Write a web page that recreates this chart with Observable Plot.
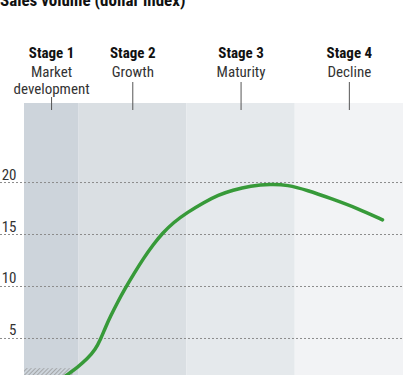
<!DOCTYPE html>
<html><head><meta charset="utf-8">
<script src="https://cdn.jsdelivr.net/npm/d3@7"></script>
<script src="https://cdn.jsdelivr.net/npm/@observablehq/plot@0.6"></script>
<style>
body{margin:0;background:#fff;}
#wrap{position:relative;width:403px;height:375px;overflow:hidden;}
#title{position:absolute;left:0;top:-8px;font:bold 17px "Liberation Sans Narrow", "Roboto Condensed", Roboto, sans-serif;line-height:17px;color:#111;white-space:nowrap;}
#chart svg{display:block;}
</style></head><body>
<div id="wrap"><div id="chart"></div><div id="title">Sales volume (dollar index)</div></div>
<script>
const stageNames = ["Stage 1", "Stage 2", "Stage 3", "Stage 4"];
const stageLabels = ["Market\ndevelopment", "Growth", "Maturity", "Decline"];
const stageStart = [0, 0.5, 1.5, 2.5];
const stageEnd = [0.5, 1.5, 2.5, 3.5];
const stageColors = ["#cdd4db", "#dadfe3", "#e5e9ec", "#f2f3f5"];
const yTicks = [5, 10, 15, 20];
const curveX = [0.37, 0.394, 0.487, 0.579, 0.656, 0.702, 0.748, 0.794, 0.859, 0.933, 1.007, 1.099, 1.191, 1.274, 1.376, 1.505, 1.653, 1.791, 1.921, 2.087, 2.272, 2.429, 2.613, 2.826, 3.075, 3.306];
const curveY = [1.33, 1.51, 2.21, 3.02, 3.96, 4.92, 6.08, 7.13, 8.48, 9.88, 11.17, 12.71, 14.06, 15.12, 16.17, 17.13, 18.07, 18.81, 19.27, 19.68, 19.85, 19.78, 19.25, 18.48, 17.52, 16.41];
const hatchX = [0, 0.45];
const hatchY = [1.44, 2.1];
const yDomain = [1.44, 27.6];

const stages = stageNames.map((name, i) => ({
  name, label: stageLabels[i], x1: stageStart[i], x2: stageEnd[i],
  mid: (stageStart[i] + stageEnd[i]) / 2, color: stageColors[i],
  lines: stageLabels[i].split("\n").length, top: yDomain[1]
}));
const curve = curveX.map((x, i) => ({x, y: curveY[i]}));
const hatch = [{x1: hatchX[0], x2: hatchX[1], y1: hatchY[0], y2: hatchY[1]}];
const font = '"Liberation Sans Narrow", "Roboto Condensed", Roboto, sans-serif';

const plot = Plot.plot({
  width: 403, height: 375,
  marginTop: 103, marginBottom: 0, marginLeft: 24, marginRight: 0,
  x: {domain: [0, 3.5], axis: null},
  y: {domain: yDomain, axis: null},
  color: {type: "identity"},
  style: {fontFamily: font, fontSize: "15px", background: "transparent", overflow: "visible"},
  marks: [
    Plot.rect(stages, {x1: "x1", x2: "x2", fill: "color"}),
    Plot.rect(hatch, {x1: "x1", x2: "x2", y1: "y1", y2: "y2", fill: "url(#hatch)"}),
    Plot.ruleY(yTicks, {stroke: "#8c8c8c", strokeDasharray: "2,2", insetLeft: -24}),
    Plot.text(yTicks, {y: d => d, text: d => String(d), frameAnchor: "left", dx: -8, dy: -3, textAnchor: "end", lineAnchor: "bottom", fill: "#333"}),
    Plot.ruleX(stages.filter(d => d.lines === 1), {x: "mid", y1: "top", y2: "top", insetTop: -21, insetBottom: -7, stroke: "#555"}),
    Plot.ruleX(stages.filter(d => d.lines > 1), {x: "mid", y1: "top", y2: "top", insetTop: -6, insetBottom: -7, stroke: "#555"}),
    Plot.text(stages, {x: "mid", text: "name", frameAnchor: "top", dy: -56, lineAnchor: "top", fontWeight: "bold", fill: "#111"}),
    Plot.text(stages, {x: "mid", text: "label", frameAnchor: "top", dy: -38, lineAnchor: "top", lineHeight: 1.1, fill: "#333"}),
    Plot.line(curve, {x: "x", y: "y", curve: "basis", stroke: "#379a39", strokeWidth: 3.5, clip: true})
  ]
});
const ns = "http://www.w3.org/2000/svg";
const defs = document.createElementNS(ns, "defs");
defs.innerHTML = '<pattern id="hatch" patternUnits="userSpaceOnUse" width="3" height="3" patternTransform="rotate(45)"><line x1="0" y1="0" x2="0" y2="3" stroke="#8a8a8a" stroke-width="1.2"/></pattern>';
plot.insertBefore(defs, plot.firstChild);
document.getElementById("chart").appendChild(plot);
</script>
</body></html>
